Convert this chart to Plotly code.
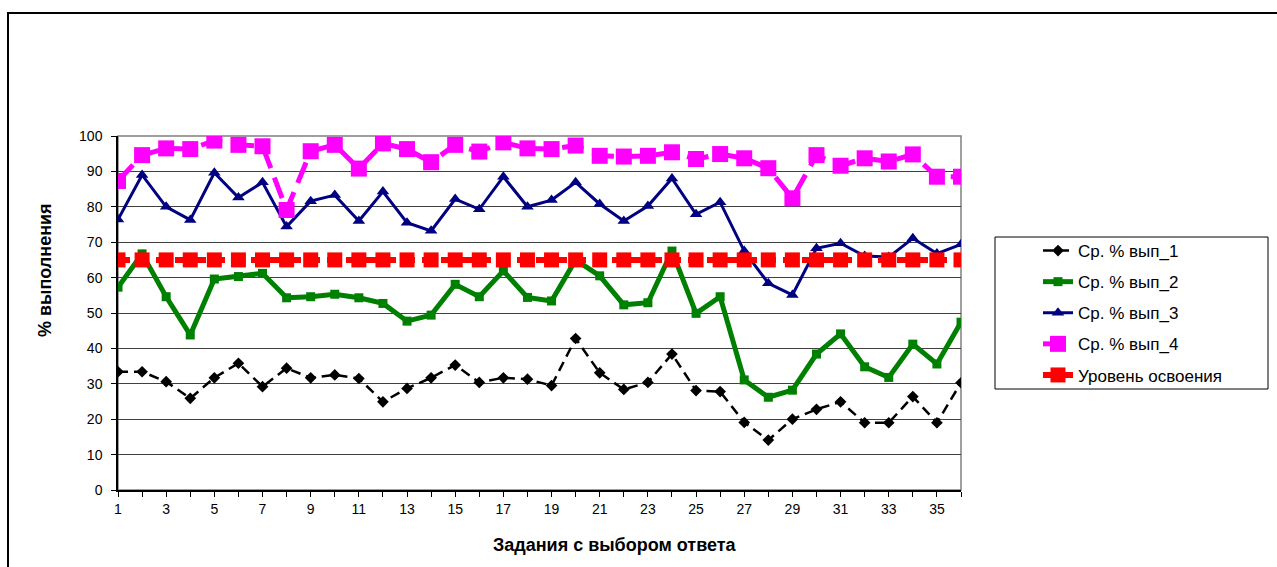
import plotly.graph_objects as go

tasks = list(range(1, 37))

vyp_1 = [33.4, 33.4, 30.6, 25.9, 31.7, 35.8, 29.2, 34.4, 31.7, 32.5, 31.5, 24.9,
         28.7, 31.7, 35.3, 30.4, 31.7, 31.3, 29.5, 42.8, 33.1, 28.4, 30.4, 38.4,
         28.1, 27.8, 19.1, 14.1, 20.0, 22.8, 24.9, 19.0, 19.0, 26.4, 19.0, 30.3]

vyp_2 = [57.3, 66.7, 54.6, 43.8, 59.6, 60.3, 61.2, 54.3, 54.6, 55.3, 54.3, 52.7,
         47.7, 49.4, 58.1, 54.6, 61.9, 54.4, 53.4, 65.0, 60.5, 52.3, 52.9, 67.5,
         49.9, 54.6, 31.1, 26.2, 28.2, 38.4, 44.1, 34.8, 31.8, 41.2, 35.6, 47.4]

vyp_3 = [76.4, 89.0, 80.0, 76.3, 89.6, 82.6, 86.9, 74.4, 81.6, 83.3, 76.0, 84.3,
         75.5, 73.2, 82.2, 79.3, 88.5, 80.0, 81.9, 86.9, 80.8, 76.0, 80.2, 88.0,
         77.9, 81.3, 67.5, 58.4, 55.1, 68.3, 69.7, 66.1, 65.8, 71.1, 66.8, 69.4]

vyp_4 = [87.3, 94.6, 96.5, 96.3, 98.7, 97.5, 97.1, 79.1, 95.7, 97.5, 90.8, 97.9,
         96.3, 92.6, 97.5, 95.6, 98.2, 96.5, 96.3, 97.3, 94.4, 94.2, 94.4, 95.4,
         93.5, 94.9, 93.7, 90.9, 82.4, 94.6, 91.6, 93.7, 92.8, 94.8, 88.5, 88.5]

level = [65] * 36

names = ["Ср. % вып_1", "Ср. % вып_2", "Ср. % вып_3", "Ср. % вып_4", "Уровень освоения"]

FONT = "Arial, Liberation Sans, sans-serif"

fig = go.Figure()

fig.add_trace(go.Scatter(x=tasks, y=vyp_1, name=names[0], mode="lines+markers", legendgroup="a",
                         line=dict(color="#000000", width=2.5, dash="10px,6px"),
                         marker=dict(symbol="diamond", size=9, color="#000000")))
fig.add_trace(go.Scatter(x=tasks, y=vyp_2, name=names[1], mode="lines+markers", legendgroup="b",
                         line=dict(color="#008000", width=5),
                         marker=dict(symbol="square", size=9, color="#008000")))
fig.add_trace(go.Scatter(x=tasks, y=vyp_3, name=names[2], mode="lines+markers", legendgroup="c",
                         line=dict(color="#000080", width=3),
                         marker=dict(symbol="triangle-up", size=11, color="#000080")))
fig.add_trace(go.Scatter(x=tasks, y=vyp_4, name=names[3], mode="lines+markers", legendgroup="d",
                         line=dict(color="#FF00FF", width=5, dash="22px,10px"),
                         marker=dict(symbol="square", size=16, color="#FF00FF")))
fig.add_trace(go.Scatter(x=tasks, y=level, name=names[4], mode="lines+markers", legendgroup="e",
                         line=dict(color="#FF0000", width=6, dash="12px,7px"),
                         marker=dict(symbol="square", size=15, color="#FF0000")))

L, R, T, B = 118, 961, 136, 490
W, H = 1277, 567
pw, ph = R - L, B - T


def px(x):
    return (x - L) / pw


def py(y):
    return (B - y) / ph


shapes = [
    # outer chart frame
    dict(type="rect", xref="paper", yref="paper", x0=px(8), x1=px(1300), y0=py(600), y1=py(13),
         line=dict(color="#000000", width=2), layer="below"),
    # plot area border
    dict(type="rect", xref="paper", yref="paper", x0=0, x1=1, y0=0, y1=1,
         line=dict(color="#808080", width=1.5), layer="below"),
    # legend box
    dict(type="rect", xref="paper", yref="paper", x0=px(995), x1=px(1268), y0=py(389), y1=py(237),
         line=dict(color="#000000", width=1), layer="below"),
]

annotations = [
    dict(text="<b>Задания с выбором ответа</b>", xref="paper", yref="paper", x=px(615), y=py(545),
         showarrow=False, font=dict(family=FONT, size=18, color="#000000"), xanchor="center", yanchor="middle"),
    dict(text="<b>% выполнения</b>", xref="paper", yref="paper", x=px(45), y=py(270),
         showarrow=False, textangle=-90, font=dict(family=FONT, size=18, color="#000000"),
         xanchor="center", yanchor="middle"),
]

fig.update_layout(
    width=W, height=H,
    margin=dict(l=L, r=W - R, t=T, b=H - B, pad=0),
    paper_bgcolor="#FFFFFF", plot_bgcolor="#FFFFFF",
    font=dict(family=FONT, size=14, color="#000000"),
    showlegend=True,
    legend=dict(x=px(1038), y=py(233), xanchor="left", yanchor="top",
                bgcolor="rgba(0,0,0,0)", borderwidth=0,
                font=dict(family=FONT, size=17, color="#000000"),
                tracegroupgap=6, traceorder="grouped"),
    shapes=shapes,
    annotations=annotations,
)

fig.update_xaxes(
    range=[1, 36], tickmode="array", tickvals=tasks,
    ticktext=[str(t) if t % 2 == 1 else "" for t in tasks],
    ticks="outside", ticklen=5, tickcolor="#000000", tickwidth=1,
    showline=True, linecolor="#000000", linewidth=1.5,
    showgrid=False, zeroline=False,
    tickfont=dict(family=FONT, size=14, color="#000000"),
)
fig.update_yaxes(
    range=[0, 100], tickmode="linear", tick0=0, dtick=10,
    ticks="outside", ticklen=5, tickcolor="#000000", tickwidth=1,
    showline=True, linecolor="#000000", linewidth=1.5,
    showgrid=True, gridcolor="#404040", gridwidth=1, zeroline=False,
    tickfont=dict(family=FONT, size=14, color="#000000"),
    ticklabelstandoff=6,
)

fig.write_html("out.html", config={"displayModeBar": False},
               post_script="document.body.style.margin='0';document.body.style.overflow='hidden';")
